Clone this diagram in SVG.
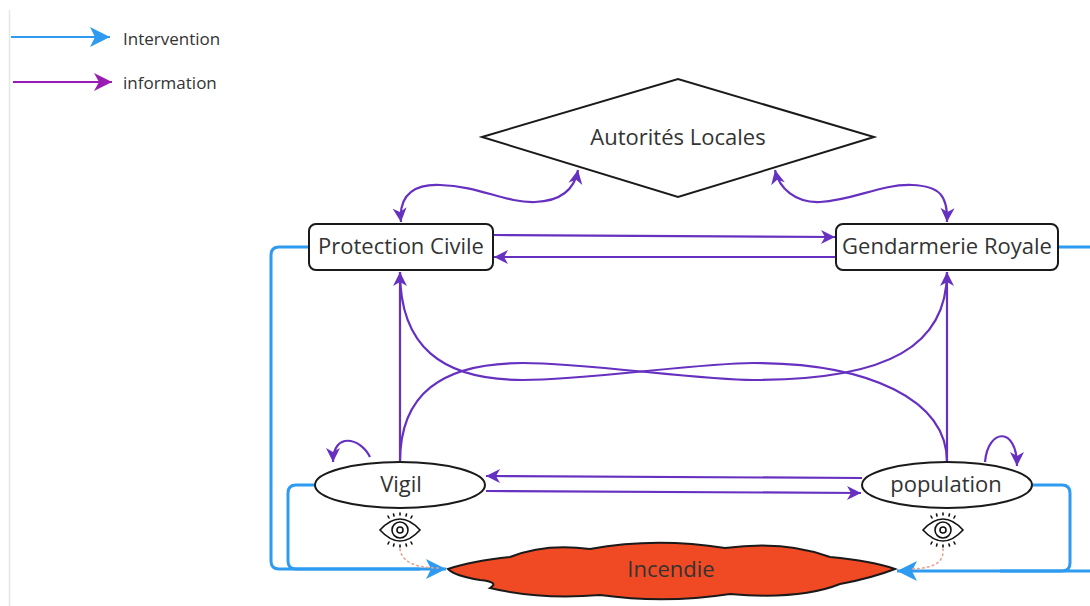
<svg xmlns="http://www.w3.org/2000/svg" width="1090" height="606" viewBox="0 0 1090 606">
  <defs>
    <style>
      .lbl { font-family: "Open Sans", "Liberation Sans", sans-serif; fill: #333333; text-anchor: middle; dominant-baseline: central; }
      .node { fill: #ffffff; stroke: #1a1a1a; stroke-width: 2; }
      .info { fill: none; stroke: #6630c0; stroke-width: 2.2; }
      .interv { fill: none; stroke: #2e9bf0; stroke-width: 3; stroke-linejoin: round; }
      .eye { fill: none; stroke: #111111; stroke-width: 1.6; stroke-linecap: round; }
      .seen { fill: none; stroke: #e8a08c; stroke-width: 1.6; stroke-dasharray: 1.5 3.5; stroke-linecap: round; }
    </style>
    <marker id="ahInfo" markerUnits="userSpaceOnUse" markerWidth="16" markerHeight="16" viewBox="0 0 16 16" refX="15" refY="8" orient="auto-start-reverse">
      <path d="M1,1 L15,8 L1,15 L5,8 Z" fill="#6630c0"/>
    </marker>
    <marker id="ahInterv" markerUnits="userSpaceOnUse" markerWidth="22" markerHeight="22" viewBox="0 0 22 22" refX="21" refY="11" orient="auto">
      <path d="M1,1 L21,11 L1,21 L6,11 Z" fill="#2e9bf0"/>
    </marker>
    <marker id="ahLegInfo" markerUnits="userSpaceOnUse" markerWidth="20" markerHeight="20" viewBox="0 0 20 20" refX="19" refY="10" orient="auto">
      <path d="M1,1 L19,10 L1,19 L6,10 Z" fill="#9a1bb4"/>
    </marker>
    <g id="eyeIcon">
      <path class="eye" d="M-20,0 Q0,-22 20,0 Q0,22 -20,0 Z"/>
      <circle class="eye" cx="0" cy="0" r="8"/>
      <circle class="eye" cx="0" cy="0" r="3"/>
      <path class="eye" d="M-11,-12 L-12,-14 M-6,-14 L-6.5,-16 M0,-15 L0,-17 M6,-14 L6.5,-16 M11,-12 L12,-14 M-11,12 L-12,14 M-6,14 L-6.5,16 M0,15 L0,17 M6,14 L6.5,16 M11,12 L12,14"/>
    </g>
  </defs>

  <rect width="1090" height="606" fill="#ffffff"/>
  <line x1="9.5" y1="10" x2="9.5" y2="606" stroke="#e6e6e6" stroke-width="1.5"/>

  <!-- legend -->
  <g id="legend">
    <line x1="11" y1="37" x2="110" y2="37" stroke="#2e9bf0" stroke-width="2" marker-end="url(#ahInterv)"/>
    <text x="123" y="38" class="lbl" style="text-anchor:start" font-size="17">Intervention</text>
    <line x1="13" y1="82" x2="112" y2="82" stroke="#9a1bb4" stroke-width="2" marker-end="url(#ahLegInfo)"/>
    <text x="123" y="82" class="lbl" style="text-anchor:start" font-size="17">information</text>
  </g>

  <!-- connectors -->
  <g id="connectors">
    <!-- intervention routes towards the fire -->
    <path class="interv" d="M309,247 L279,247 Q271,247 271,255 L271,561 Q271,569 279,569 L446,569" marker-end="url(#ahInterv)"/>
    <path class="interv" stroke-width="2" d="M315,485 L296,485 Q288,485 288,493 L288,561 Q288,569 296,569 L420,569"/>
    <path class="interv" d="M1058,247 L1095,247"/>
    <path class="interv" d="M1095,571 L897,571" marker-end="url(#ahInterv)"/>
    <path class="interv" stroke-width="2" d="M1033,485 L1062,485 Q1070,485 1070,493 L1070,563 Q1070,571 1062,571 L1000,571"/>

    <!-- information flows -->
    <path class="info" d="M401,222 C398,192 418,184 440,185 C480,186 505,203 535,202 C565,201 575,186 578,170" marker-start="url(#ahInfo)" marker-end="url(#ahInfo)"/>
    <path class="info" d="M775,170 C779,188 795,203 820,202 C855,200 880,184 912,185 C940,186 948,196 947,222" marker-start="url(#ahInfo)" marker-end="url(#ahInfo)"/>
    <path class="info" d="M494,235 L835,237" marker-end="url(#ahInfo)"/>
    <path class="info" d="M835,257 L494,257" marker-end="url(#ahInfo)"/>
    <path class="info" d="M862,478 L486,476" marker-end="url(#ahInfo)"/>
    <path class="info" d="M486,491 L861,493" marker-end="url(#ahInfo)"/>
    <path class="info" d="M400,462 L400,272" marker-end="url(#ahInfo)"/>
    <path class="info" d="M947,462 L947,272" marker-end="url(#ahInfo)"/>
    <path class="info" d="M400,462 C400,395 440,363 523,363 C585,363 700,380 753,380 C890,380 947,345 947,272"/>
    <path class="info" d="M947,462 C947,400 870,363 753,363 C700,363 585,380 523,380 C440,380 400,345 400,272"/>
    <path class="info" d="M370,457 C360,437 333,432 333,462" marker-end="url(#ahInfo)"/>
    <path class="info" d="M985,462 C988,428 1017,426 1017,466" marker-end="url(#ahInfo)"/>

    <!-- observation links -->
    <path class="seen" d="M400,549 C402,562 415,568 440,568"/>
    <path class="seen" d="M943,549 C944,562 935,568 912,569"/>
  </g>

  <g id="autorites-locales">
    <polygon class="node" points="482,137 678,79 874,137 678,197"/>
    <text x="678" y="136" class="lbl" font-size="22">Autorités Locales</text>
  </g>

  <g id="protection-civile">
    <rect class="node" x="309" y="224" width="184" height="46" rx="7"/>
    <text x="401" y="245" class="lbl" font-size="22">Protection Civile</text>
  </g>

  <g id="gendarmerie-royale">
    <rect class="node" x="836" y="224" width="222" height="46" rx="7"/>
    <text x="947" y="245" class="lbl" font-size="22">Gendarmerie Royale</text>
  </g>

  <g id="vigil">
    <ellipse class="node" cx="400" cy="485" rx="85" ry="23"/>
    <text x="401" y="483" class="lbl" font-size="22">Vigil</text>
  </g>

  <g id="population">
    <ellipse class="node" cx="947" cy="485" rx="85" ry="23"/>
    <text x="946" y="483" class="lbl" font-size="22">population</text>
  </g>

  <g id="incendie">
    <path d="M448,569 Q472,561 510,557 Q545,543 590,549 Q655,537 725,548 Q785,540 830,557 Q872,561 895,569 Q872,578 840,584 Q800,600 730,594 Q665,604 600,595 Q540,600 490,588 Q500,582 480,580 Q455,576 448,569 Z" fill="#f04a25" stroke="#1a1a1a" stroke-width="2"/>
    <text x="671" y="568" class="lbl" font-size="22">Incendie</text>
  </g>

  <g id="vigil-eye">
    <use href="#eyeIcon" x="400" y="530"/>
  </g>
  <g id="population-eye">
    <use href="#eyeIcon" x="943" y="530"/>
  </g>
</svg>
